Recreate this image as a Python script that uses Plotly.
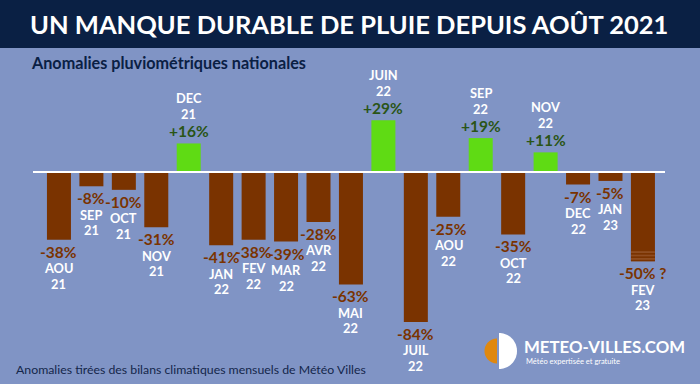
import numpy as np
import plotly.graph_objects as go

# ---- data ----
months = ["AOU", "SEP", "OCT", "NOV", "DEC", "JAN", "FEV", "MAR", "AVR", "MAI",
          "JUIN", "JUIL", "AOU", "SEP", "OCT", "NOV", "DEC", "JAN", "FEV"]
years = ["21", "21", "21", "21", "21", "22", "22", "22", "22", "22",
         "22", "22", "22", "22", "22", "22", "22", "23", "23"]
values = [-38, -8, -10, -31, 16, -41, -38, -39, -28, -63,
          29, -84, -25, 19, -35, 11, -7, -5, -50]
uncertain = [False] * 18 + [True]      # last month still provisional
uncertain_span = 6                     # hatched end of a provisional bar (%)

# ---- styling ----
W, H = 700, 384
ML, MR, MT, MB = 33, 35, 60, 14
BG = "#8094c5"
NAVY = "#0a2044"
BROWN = "#7a3300"
GREEN = "#5fdb14"
DKGREEN = "#2a5516"
FONT = "Lato"

PW = W - ML - MR
PH = H - MT - MB


def px(x):
    return (x - ML) / PW


def py(y):
    return (H - MB - y) / PH


n = len(values)
xs = list(range(n))
colors = [GREEN if v > 0 else BROWN for v in values]

fig = go.Figure()
fig.add_trace(go.Bar(x=xs, y=values, marker=dict(color=colors, line=dict(width=0)),
                     width=0.74, hoverinfo="skip"))

# hatched provisional tail
hx = [x for x, u in zip(xs, uncertain) if u]
hv = [v for v, u in zip(values, uncertain) if u]
fig.add_trace(go.Bar(x=hx, y=[-uncertain_span] * len(hx),
                     base=[v + uncertain_span for v in hv],
                     width=0.74, hoverinfo="skip",
                     marker=dict(color=BROWN, line=dict(width=0),
                                 pattern=dict(shape="-", fgcolor="#b07656",
                                              bgcolor=BROWN, size=3.4,
                                              solidity=0.38))))

ann = []
for i, (m, yr, v, u) in enumerate(zip(months, years, values, uncertain)):
    lab = ("+%d%%" % v) if v > 0 else ("%d%%" % v)
    if u:
        lab += " ?"
    s = 1 if v > 0 else -1
    vcol = DKGREEN if v > 0 else BROWN
    common = dict(x=i, y=v, xref="x", yref="y", showarrow=False,
                  xanchor="center", yanchor="middle", borderpad=0)
    ann.append(dict(text=lab, yshift=s * 12,
                    font=dict(family=FONT, size=15.5, color=vcol, weight="bold"), **common))
    if v > 0:
        ann.append(dict(text=yr, yshift=29,
                        font=dict(family=FONT, size=12.8, color="white", weight="bold"), **common))
        ann.append(dict(text=m, yshift=45,
                        font=dict(family=FONT, size=12.8, color="white", weight="bold"), **common))
    else:
        ann.append(dict(text=m, yshift=-28.5,
                        font=dict(family=FONT, size=12.8, color="white", weight="bold"), **common))
        ann.append(dict(text=yr, yshift=-44,
                        font=dict(family=FONT, size=12.8, color="white", weight="bold"), **common))

# titles and footer
ann.append(dict(text="UN MANQUE DURABLE DE PLUIE DEPUIS AOÛT 2021", x=px(349), y=py(24),
                xref="paper", yref="paper", showarrow=False, xanchor="center", yanchor="middle",
                font=dict(family=FONT, size=25.5, color="white", weight="bold")))
ann.append(dict(text="Anomalies pluviométriques nationales", x=px(29), y=py(62),
                xref="paper", yref="paper", showarrow=False, xanchor="left", yanchor="middle",
                font=dict(family=FONT, size=16.2, color=NAVY, weight="bold")))
ann.append(dict(text="Anomalies tirées des bilans climatiques mensuels de Météo Villes",
                x=px(14), y=py(369), xref="paper", yref="paper", showarrow=False,
                xanchor="left", yanchor="middle",
                font=dict(family=FONT, size=12.3, color="#14264a")))
ann.append(dict(text="METEO-VILLES.COM", x=px(523), y=py(346.5), xref="paper", yref="paper",
                showarrow=False, xanchor="left", yanchor="middle", borderpad=0,
                font=dict(family=FONT, size=16.8, color="white", weight="bold")))
ann.append(dict(text="Météo expertisée et gratuite", x=px(525), y=py(361), xref="paper",
                yref="paper", showarrow=False, xanchor="left", yanchor="middle", borderpad=0,
                font=dict(family=FONT, size=7.5, color="white")))

shapes = []
# header band
shapes.append(dict(type="rect", xref="paper", yref="paper", x0=px(0), x1=px(W),
                   y0=py(48), y1=py(0), fillcolor=NAVY, line=dict(width=0), layer="below"))
# zero line
shapes.append(dict(type="line", xref="paper", yref="y", x0=0, x1=1, y0=0, y1=0,
                   line=dict(color="white", width=2.2)))


def half_circle(cx, cy, r, side):
    t = np.linspace(-np.pi / 2, np.pi / 2, 40)
    xx = cx + side * r * np.cos(t)
    yy = cy + r * np.sin(t)
    pts = ["%s%.5f,%.5f" % ("M" if k == 0 else "L", px(a), py(b))
           for k, (a, b) in enumerate(zip(xx, yy))]
    return " ".join(pts) + " Z"


shapes.append(dict(type="path", xref="paper", yref="paper", path=half_circle(499, 351, 18, 1),
                   fillcolor="white", line=dict(width=0)))
shapes.append(dict(type="path", xref="paper", yref="paper", path=half_circle(497, 351, 12.5, -1),
                   fillcolor="#e0880e", line=dict(width=0)))

fig.update_layout(
    width=W, height=H, margin=dict(l=ML, r=MR, t=MT, b=MB),
    paper_bgcolor=BG, plot_bgcolor=BG, showlegend=False, barmode="overlay",
    xaxis=dict(range=[-0.8, 18.68], visible=False, fixedrange=True),
    yaxis=dict(range=[-(PH - (172 - MT)) / 1.785, (172 - MT) / 1.785], visible=False,
               fixedrange=True),
    annotations=ann, shapes=shapes,
)

fig.write_html("out.html", config={"displayModeBar": False},
               post_script="document.body.style.margin='0';document.body.style.padding='0';"
                           "document.body.style.overflow='hidden';")
